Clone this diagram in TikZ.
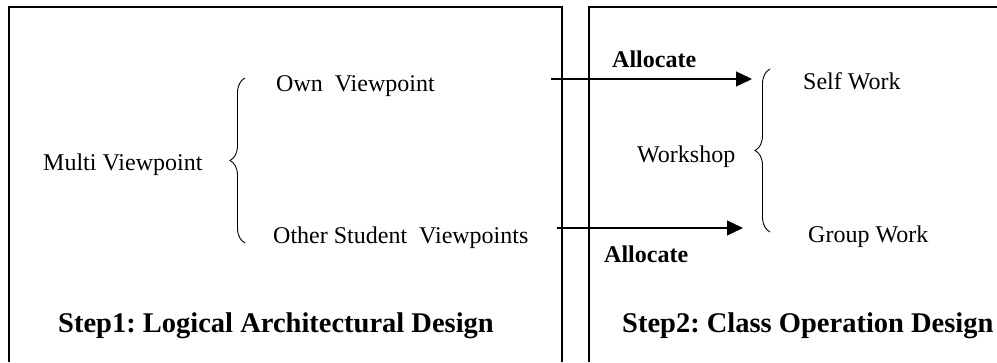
\documentclass[tikz,border=0pt]{standalone}
\usepackage{fontspec}
\setmainfont{Liberation Serif}
\frenchspacing
\usetikzlibrary{arrows.meta}
\usetikzlibrary{decorations.pathreplacing}

\begin{document}
\begin{tikzpicture}[x=1bp,y=1bp,line join=miter]
  \path[use as bounding box] (0,0) rectangle (997,362);
  \fill[white] (0,0) rectangle (997,362);

  \tikzset{
    frame/.style={line width=1.5bp,draw=black},
    plain/.style={anchor=base west,inner sep=0pt,
      font=\fontsize{24bp}{24bp}\selectfont},
    tag/.style={anchor=base west,inner sep=0pt,
      font=\fontsize{24bp}{24bp}\selectfont\bfseries},
    stepname/.style={anchor=base west,inner sep=0pt,
      font=\fontsize{28.5bp}{28.5bp}\selectfont\bfseries},
    curly/.style={decorate,decoration={brace,amplitude=15bp},line width=0.9bp},
    allot/.style={-{Triangle[length=16bp,width=15bp]},line width=1.3bp},
  }

  % Frames (open at the bottom / right)
  \draw[frame] (9,0) -- (9,355) -- (562,355) -- (562,0);
  \draw[frame] (589,0) -- (589,355) -- (997,355);

  % ==================== STEP 1 ====================
  \node[plain] (multi) at (43,192) {Multi Viewpoint};
  \node[plain] (own) at (276,271) {Own\ \ Viewpoint};
  \node[plain] (other) at (273,119) {Other Student\ \ Viewpoints};

  \coordinate (brLtop) at (245,284);
  \coordinate (brLbot) at (245,119);
  \draw[curly] (brLbot) -- (brLtop);

  \node[stepname] (step1) at (58,30) {Step1: Logical Architectural Design};

  % ==================== STEP 2 ====================
  \node[plain] (workshop) at (637,200) {Workshop};
  \node[plain] (self) at (803,273) {Self Work};
  \node[plain] (group) at (808,120) {Group Work};

  \coordinate (brRtop) at (770,293);
  \coordinate (brRbot) at (770,130);
  \draw[curly] (brRbot) -- (brRtop);

  \node[stepname] (step2) at (622,30) {Step2: Class Operation Design};

  % Allocation arrows across the two frames
  \coordinate (ownout) at (551,283);
  \coordinate (selfin) at (752,283);
  \coordinate (otherout) at (557,134);
  \coordinate (groupin) at (743,134);

  \draw[allot] (ownout) -- (selfin);
  \draw[allot] (otherout) -- (groupin);

  \node[tag] (alloctop) at (612,295) {Allocate};
  \node[tag] (allocbot) at (604,100) {Allocate};

\end{tikzpicture}
\end{document}
